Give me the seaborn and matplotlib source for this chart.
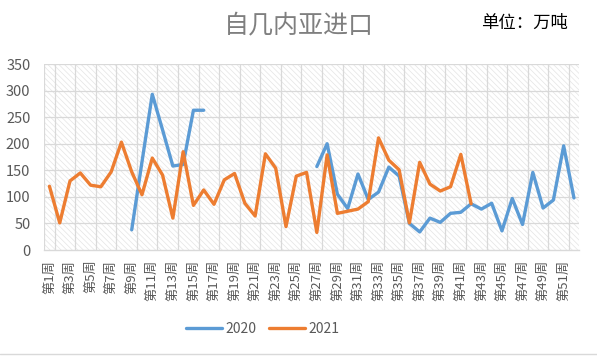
import numpy as np
import pandas as pd
import matplotlib
matplotlib.use("Agg")
import matplotlib.pyplot as plt
from matplotlib.lines import Line2D
import seaborn as sns

# 周次与两年的进口量（万吨），空缺处为 NaN
weeks = [f"第{i}周" for i in range(1, 53)]
nan = np.nan
y2020 = [nan, nan, nan, nan, nan, nan, nan, nan, 38, 166,
         293, 226, 158, 161, 263, 263, nan, nan, nan, nan,
         nan, nan, nan, nan, nan, nan, 157, 200, 105, 78,
         143, 95, 109, 156, 139, 50, 34, 60, 52, 69,
         71, 87, 77, 88, 36, 97, 48, 146, 79, 94,
         196, 98]
y2021 = [120, 51, 130, 145, 122, 119, 147, 203, 147, 104,
         173, 141, 60, 185, 84, 113, 86, 132, 144, 88,
         64, 181, 154, 44, 139, 146, 33, 179, 69, 73,
         77, 91, 211, 169, 151, 51, 165, 124, 111, 119,
         180, 87, nan, nan, nan, nan, nan, nan, nan, nan,
         nan, nan]
years = ["2020", "2021"]
colors = {"2020": "#5B9BD5", "2021": "#ED7D31"}

# 长表，按缺失值拆分线段，用 units 断开
rows = []
for year, vals in zip(years, [y2020, y2021]):
    seg = 0
    prev_nan = True
    for i, v in enumerate(vals):
        if np.isnan(v):
            prev_nan = True
            continue
        if prev_nan:
            seg += 1
        prev_nan = False
        rows.append({"pos": i, "value": v, "year": year, "seg": f"{year}_{seg}"})
df = pd.DataFrame(rows)

sns.set_theme(style="white")
plt.rcParams["font.family"] = ["Noto Sans CJK SC", "DejaVu Sans"]
plt.rcParams["hatch.linewidth"] = 0.5

fig = plt.figure(figsize=(5.97, 3.57), dpi=100)
ax = fig.add_axes([0.0742, 0.2997, 0.8958, 0.521])

# 背景斜线填充
ax.patch.set_facecolor("white")
ax.patch.set_hatch("\\\\\\\\\\\\")
ax.patch.set_edgecolor("#e4e4e4")
ax.patch.set_linewidth(0)

sns.lineplot(data=df, x="pos", y="value", hue="year", units="seg",
             estimator=None, palette=colors, linewidth=2.4,
             legend=False, ax=ax, zorder=3)

ax.set_xlim(-0.5, 51.5)
ax.set_ylim(0, 350)
ax.set_yticks(range(0, 351, 50))
ax.set_xticks(range(0, 52, 2))
ax.set_xticklabels(weeks[::2], rotation=90, fontsize=9.5, color="#595959")
ax.tick_params(axis="y", labelsize=10.5, labelcolor="#595959", length=0, pad=10)
ax.tick_params(axis="x", length=0, pad=7)
ax.set_xlabel("")
ax.set_ylabel("")

# 网格线
for yv in range(50, 351, 50):
    ax.axhline(yv, color="#d9d9d9", linewidth=0.9, zorder=1)
ax.set_xticks(np.arange(0.5, 51, 2), minor=True)
ax.grid(True, axis="x", which="minor", color="#d9d9d9", linewidth=0.9, zorder=1)
ax.tick_params(axis="x", which="minor", length=0)
ax.axvline(-0.5, color="#d9d9d9", linewidth=0.9, zorder=1)

for side in ["top", "right", "left"]:
    ax.spines[side].set_visible(False)
ax.spines["bottom"].set_color("#d9d9d9")
ax.spines["bottom"].set_linewidth(1.0)

fig.text(0.5, 0.93, "自几内亚进口", ha="center", va="center",
         fontsize=18, color="#7f7f7f")
fig.text(0.879, 0.935, "单位：万吨", ha="center", va="center",
         fontsize=12.5, color="#000000")

handles = [Line2D([0], [0], color=colors[y], linewidth=2.4) for y in years]
fig.legend(handles, years, loc="center", bbox_to_anchor=(0.44, 0.078),
           ncol=2, frameon=False, fontsize=10, handlelength=2.6,
           handletextpad=0.25, columnspacing=0.9, labelcolor="#595959")

# 底部分隔线
fig.add_artist(Line2D([0, 1], [0.008, 0.008], transform=fig.transFigure,
                      color="#d9d9d9", linewidth=1.0))

fig.savefig("out.png", dpi=100)
